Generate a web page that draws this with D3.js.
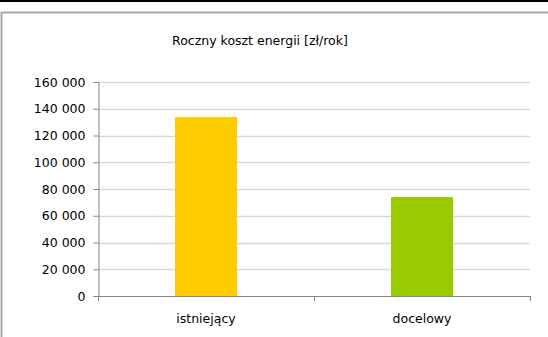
<!DOCTYPE html>
<html>
<head>
<meta charset="utf-8">
<title>Roczny koszt energii</title>
<script src="https://d3js.org/d3.v7.min.js"></script>
<style>
  body { margin: 0; background: #fff; }
  svg text { font-family: Tahoma, "DejaVu Sans", sans-serif; fill: #000; }
</style>
</head>
<body>
<script>
var categories = ["istniejący", "docelowy"];
var values = [133800, 74000];
var colors = ["#ffcc00", "#99cc00"];
var yTicks = [0, 20000, 40000, 60000, 80000, 100000, 120000, 140000, 160000];
var title = "Roczny koszt energii [zł/rok]";

var width = 548, height = 337;
var plotLeft = 98, plotRight = 530, plotTop = 82, plotBottom = 296;

var svg = d3.select("body").append("svg").attr("width", width).attr("height", height);

// top black rule and chart frame
svg.append("line").attr("x1", 0).attr("x2", width).attr("y1", 1).attr("y2", 1)
  .attr("stroke", "#000").attr("stroke-width", 2);
svg.append("rect").attr("x", 1.5).attr("y", 12.5).attr("width", width + 10).attr("height", height)
  .attr("fill", "none").attr("stroke", "#a6a6a6").attr("stroke-width", 2);

svg.append("text").attr("x", 260).attr("y", 45).attr("text-anchor", "middle")
  .style("font-size", "12.5px").text(title);

var y = d3.scaleLinear().domain([0, 160000]).range([plotBottom, plotTop]);
var x = d3.scaleBand().domain(categories).range([plotLeft, plotRight])
  .paddingInner(0.713).paddingOuter(0.3565);

var fmt = function(d) { return d3.format(",")(d).replace(/,/g, " "); };

// gridlines
svg.selectAll(".grid").data(yTicks.filter(function(d) { return d > 0; })).enter()
  .append("line").attr("class", "grid")
  .attr("x1", plotLeft).attr("x2", plotRight)
  .attr("y1", function(d) { return Math.round(y(d)) + 0.5; })
  .attr("y2", function(d) { return Math.round(y(d)) + 0.5; })
  .attr("stroke", "#d9d9d9").attr("stroke-width", 1.5);

svg.selectAll(".bar").data(values).enter()
  .append("rect").attr("class", "bar")
  .attr("x", function(d, i) { return x(categories[i]); })
  .attr("width", x.bandwidth())
  .attr("y", function(d) { return y(d); })
  .attr("height", function(d) { return plotBottom - y(d); })
  .attr("fill", function(d, i) { return colors[i]; });

// y axis
var yAxis = svg.append("g").attr("transform", "translate(" + (plotLeft + 0.5) + ",0)")
  .call(d3.axisLeft(y).tickValues(yTicks).tickFormat(fmt).tickSize(5).tickPadding(8));
yAxis.select(".domain").attr("stroke", "#868686");
yAxis.selectAll(".tick line").attr("stroke", "#868686");
yAxis.selectAll(".tick text").style("font-size", "12.5px");

// x axis
var edges = [plotLeft, (plotLeft + plotRight) / 2, plotRight];
svg.append("line").attr("x1", plotLeft).attr("x2", plotRight + 0.5)
  .attr("y1", plotBottom + 0.5).attr("y2", plotBottom + 0.5).attr("stroke", "#868686");
svg.selectAll(".xtick").data(edges).enter().append("line").attr("class", "xtick")
  .attr("x1", function(d) { return Math.round(d) + 0.5; })
  .attr("x2", function(d) { return Math.round(d) + 0.5; })
  .attr("y1", plotBottom).attr("y2", plotBottom + 5).attr("stroke", "#868686");
svg.selectAll(".xlab").data(categories).enter().append("text").attr("class", "xlab")
  .attr("x", function(d) { return x(d) + x.bandwidth() / 2; })
  .attr("y", 323).attr("text-anchor", "middle")
  .style("font-size", "12.5px").text(function(d) { return d; });
</script>
</body>
</html>
